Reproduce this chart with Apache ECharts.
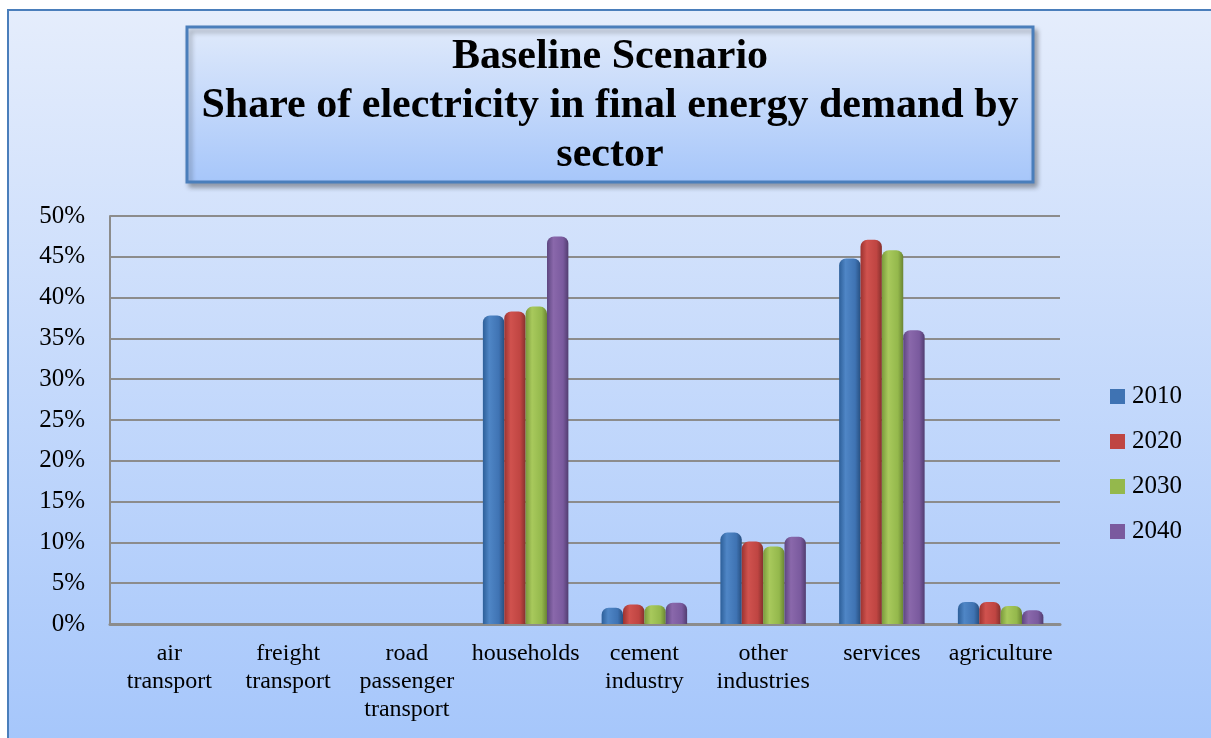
<!DOCTYPE html>
<html>
<head>
<meta charset="utf-8">
<script src="https://cdn.jsdelivr.net/npm/echarts@6/dist/echarts.min.js"></script>
<style>
  html, body { margin: 0; padding: 0; background: #ffffff; }
  #chart { width: 1211px; height: 738px; }
</style>
</head>
<body>
<div id="chart"></div>
<script>
// Sectors on the category axis
const categories = [
  'air\ntransport', 'freight\ntransport', 'road\npassenger\ntransport',
  'households', 'cement\nindustry', 'other\nindustries', 'services', 'agriculture'
];
// Share of electricity (%) per sector, one array per year
const years = ['2010', '2020', '2030', '2040'];
const share2010 = [0, 0, 0, 37.8, 2.0, 11.2, 44.8, 2.7];
const share2020 = [0, 0, 0, 38.3, 2.4, 10.1, 47.1, 2.7];
const share2030 = [0, 0, 0, 38.9, 2.3, 9.5, 45.8, 2.2];
const share2040 = [0, 0, 0, 47.5, 2.6, 10.7, 36.0, 1.7];
// Value axis
const yMin = 0, yMax = 50, yStep = 5;

const seriesData = [share2010, share2020, share2030, share2040];
const baseColors = [
  ['#2d5f99', '#4f86c6', '#3f73b3', '#274f80'],
  ['#9c3330', '#d0524e', '#bf4542', '#85302d'],
  ['#7a9a3c', '#a8c95c', '#94b84c', '#6a8533'],
  ['#5d4680', '#8a68ab', '#7a5a9e', '#513d70']
];
const legendColors = ['#3f73b3', '#bf4542', '#94b84c', '#7a5a9e'];

function cylinder(c) {
  return {
    type: 'linear', x: 0, y: 0, x2: 1, y2: 0,
    colorStops: [
      { offset: 0, color: c[0] },
      { offset: 0.3, color: c[1] },
      { offset: 0.75, color: c[2] },
      { offset: 1, color: c[3] }
    ]
  };
}

const serif = '"Liberation Serif", "Times New Roman", serif';
const chart = echarts.init(document.getElementById('chart'));

chart.setOption({
  animation: false,
  textStyle: { fontFamily: serif },
  graphic: [
    {
      type: 'rect', z: -10, silent: true,
      shape: { x: 8, y: 10, width: 1220, height: 740 },
      style: {
        fill: { type: 'linear', x: 0, y: 0, x2: 0, y2: 1,
          colorStops: [{ offset: 0, color: '#e5edfc' }, { offset: 1, color: '#a5c6fb' }] },
        stroke: '#4a7ebb', lineWidth: 2
      }
    },
    {
      type: 'rect', z: -5, silent: true,
      shape: { x: 187, y: 27, width: 846, height: 155 },
      style: {
        fill: { type: 'linear', x: 0, y: 0, x2: 0, y2: 1,
          colorStops: [{ offset: 0, color: '#e0eafb' }, { offset: 1, color: '#a6c6fa' }] },
        stroke: '#4a7ebb', lineWidth: 3,
        shadowBlur: 5, shadowOffsetX: 3, shadowOffsetY: 4, shadowColor: 'rgba(0,0,0,0.3)'
      }
    }
  ],
  title: {
    text: 'Baseline Scenario\nShare of electricity in final energy demand by\nsector',
    left: 610, top: 33, textAlign: 'center', padding: 0,
    textStyle: {
      fontFamily: serif, fontWeight: 'bold', fontSize: 42, lineHeight: 49, color: '#000'
    }
  },
  legend: {
    orient: 'vertical', left: 1110, top: 384, padding: 0,
    itemWidth: 15, itemHeight: 15, itemGap: 20, icon: 'rect',
    data: years.map((y, i) => ({ name: y, itemStyle: { color: legendColors[i] } })),
    textStyle: { fontFamily: serif, fontSize: 25, lineHeight: 24, color: '#000', padding: [0, 0, 0, 2] }
  },
  grid: { left: 110, right: 151, top: 216, bottom: 114 },
  xAxis: {
    type: 'category', data: categories,
    axisLine: { lineStyle: { color: '#8c8c8c', width: 3 } },
    axisTick: { show: false },
    axisLabel: { fontFamily: serif, fontSize: 24, lineHeight: 28, color: '#000', margin: 16, interval: 0 }
  },
  yAxis: {
    type: 'value', min: yMin, max: yMax, interval: yStep,
    axisLine: { show: true, lineStyle: { color: '#8c8c8c', width: 2 } },
    axisTick: { show: false },
    splitLine: { lineStyle: { color: '#8c8c8c', width: 2 } },
    axisLabel: { formatter: '{value}%', fontFamily: serif, fontSize: 25, color: '#000', margin: 25 }
  },
  series: years.map((y, i) => ({
    name: y, type: 'bar',
    data: seriesData[i],
    barGap: '0%', barCategoryGap: '28%',
    itemStyle: { color: cylinder(baseColors[i]), borderRadius: [7, 7, 0, 0] }
  }))
});
</script>
</body>
</html>
